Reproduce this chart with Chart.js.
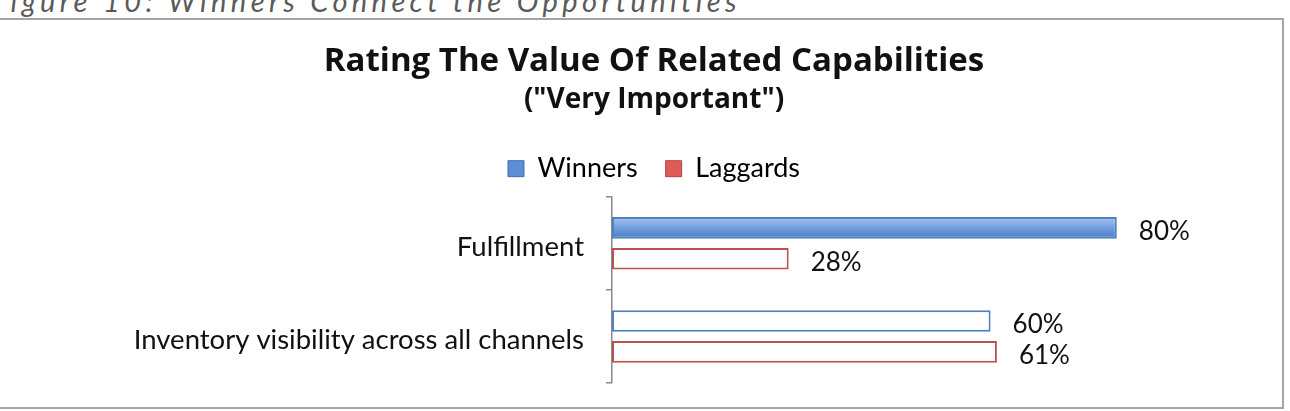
<!DOCTYPE html>
<html>
<head>
<meta charset="utf-8">
<script src="https://cdn.jsdelivr.net/npm/chart.js@4.4.1/dist/chart.umd.min.js"></script>
<style>
    html, body { margin: 0; padding: 0; background: #fff; overflow: hidden; }
    body { width: 1290px; height: 411px; position: relative; }
    #captionClip {
        position: absolute; left: 10px; top: 0; width: 800px; height: 18px; overflow: hidden;
    }
    #caption {
        position: absolute; left: -19px; top: -14px;
        font: italic 29px 'Lato', sans-serif; letter-spacing: 4.4px;
        color: #5a5a5a; white-space: nowrap; line-height: 1;
    }
    #frame {
        position: absolute; left: -3px; top: 18px; width: 1287px; height: 391px;
        box-sizing: border-box; border: 2px solid #a4a4a4;
    }
    #chart { position: absolute; left: 0; top: 0; }
</style>
</head>
<body>
<div id="captionClip"><div id="caption">Figure 10: Winners Connect the Opportunities</div></div>
<div id="frame"></div>
<canvas id="chart" width="1290" height="411"></canvas>
<script>
// Chart data
const categories = ['Fulfillment', 'Inventory visibility across all channels'];
const seriesNames = ['Winners', 'Laggards'];
const winners = [80, 60];
const laggards = [28, 61];

// Only the top Winners bar is filled in the original, the rest are outlines
const BLUE = '#4f81bd';
const RED = '#c0504d';
const FONT = "'Lato', sans-serif";
const TITLE_FONT = "'Open Sans', sans-serif";

// Give the filled bar its light-to-dark gradient once its size is known
const barGradient = {
    id: 'barGradient',
    beforeDatasetsDraw(chart) {
        const el = chart.getDatasetMeta(0).data[0];
        if (!el) return;
        const top = el.y - el.height / 2;
        const g = chart.ctx.createLinearGradient(0, top, 0, top + el.height);
        g.addColorStop(0, '#a9c6f0');
        g.addColorStop(0.45, '#76a2e0');
        g.addColorStop(1, '#4a7cc2');
        try { el.options.backgroundColor = g; } catch (e) { /* frozen options */ }
    }
};

// Percent labels after each bar
const valueLabels = {
    id: 'valueLabels',
    afterDatasetsDraw(chart) {
        const ctx = chart.ctx;
        ctx.save();
        ctx.font = '26px ' + FONT;
        ctx.fillStyle = '#111';
        ctx.textAlign = 'left';
        ctx.textBaseline = 'middle';
        chart.data.datasets.forEach((ds, i) => {
            chart.getDatasetMeta(i).data.forEach((bar, j) => {
                ctx.fillText(ds.data[j] + '%', bar.x + 22, bar.y + 4);
            });
        });
        ctx.restore();
    }
};

const PAD_LEFT = 65;

const chart = new Chart(document.getElementById('chart').getContext('2d'), {
    type: 'bar',
    data: {
        labels: categories,
        datasets: [{
            label: seriesNames[0],
            data: winners,
            backgroundColor: (c) => (c.dataIndex === 0 ? BLUE : '#ffffff'),
            borderColor: BLUE,
            borderWidth: 2,
            borderSkipped: false
        }, {
            label: seriesNames[1],
            data: laggards,
            backgroundColor: '#ffffff',
            borderColor: RED,
            borderWidth: 2,
            borderSkipped: false
        }]
    },
    options: {
        indexAxis: 'y',
        responsive: false,
        animation: false,
        categoryPercentage: 0.662,
        barPercentage: 0.7,
        layout: { padding: { left: PAD_LEFT, right: 47, top: 0, bottom: 28 } },
        plugins: {
            title: {
                display: true,
                text: 'Rating The Value Of Related Capabilities',
                color: '#111',
                font: { family: TITLE_FONT, size: 33, weight: 'bold' },
                padding: { top: 42, bottom: 0 }
            },
            subtitle: {
                display: true,
                text: '("Very Important")',
                color: '#111',
                font: { family: TITLE_FONT, size: 28, weight: 'bold' },
                padding: { top: 2, bottom: 10 }
            },
            legend: {
                display: true,
                position: 'top',
                labels: {
                    color: '#111',
                    font: { family: FONT, size: 27 },
                    boxWidth: 16,
                    boxHeight: 16,
                    padding: 28,
                    generateLabels() {
                        return seriesNames.map((name, i) => ({
                            text: name,
                            fillStyle: i === 0 ? '#5b8ed6' : '#e05a57',
                            strokeStyle: i === 0 ? '#3f6fae' : '#b04441',
                            lineWidth: 1,
                            datasetIndex: i
                        }));
                    }
                }
            },
            tooltip: { enabled: false }
        },
        scales: {
            x: {
                position: 'top',
                min: 0,
                max: 100,
                display: true,
                ticks: { display: false },
                grid: { display: false },
                border: { display: false },
                afterFit(scale) { scale.height = 4.5; }
            },
            y: {
                ticks: {
                    color: '#111',
                    font: { family: FONT, size: 27.5 },
                    padding: 22,
                    labelOffset: 4
                },
                grid: {
                    drawOnChartArea: false,
                    drawTicks: true,
                    tickLength: 6,
                    color: '#8a8a8a',
                    lineWidth: 1.5
                },
                border: { color: '#8a8a8a', width: 1.5 },
                afterFit(scale) {
                    scale.width = 612 - PAD_LEFT;
                    // labels sit inside the category bands, no extra room needed
                    scale.paddingTop = 0;
                    scale.paddingBottom = 0;
                }
            }
        }
    },
    plugins: [barGradient, valueLabels]
});
</script>
</body>
</html>
